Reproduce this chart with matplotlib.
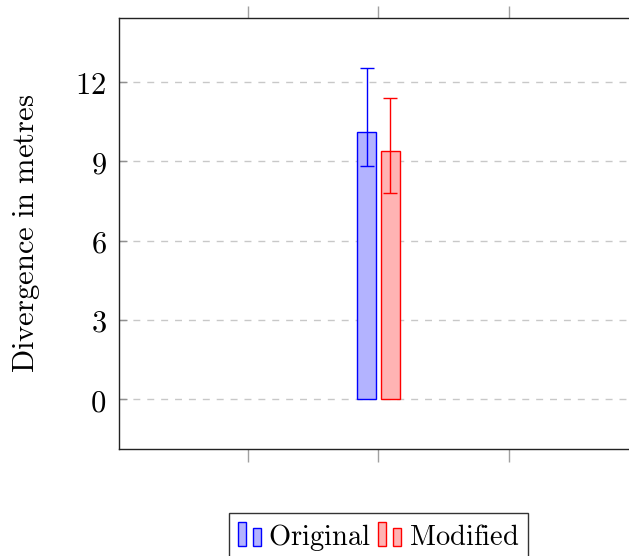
import matplotlib
matplotlib.use("Agg")
import matplotlib.pyplot as plt
from matplotlib.patches import Rectangle
from matplotlib.legend_handler import HandlerBase

plt.rcParams['mathtext.fontset'] = 'cm'
plt.rcParams['font.family'] = 'serif'
plt.rcParams['font.serif'] = ['DejaVu Serif']

series = ["Original", "Modified"]
values = [10.12, 9.39]
err_plus = [2.40, 2.02]
err_minus = [1.31, 1.57]
colors = ["#0000ff", "#ff0000"]
fills = ["#b3b3ff", "#ffb3b3"]
x_center = 1
offsets = [-0.09, 0.092]
bar_width = 0.146
yticks = [0, 3, 6, 9, 12]

fig = plt.figure(figsize=(6.29, 5.56), dpi=100)
ax = fig.add_axes([119/629, 1-449/556, (638-119)/629, (449-18)/556])

for i in range(2):
    x = x_center + offsets[i]
    ax.bar(x, values[i], width=bar_width, color=fills[i], edgecolor=colors[i], linewidth=1, zorder=3)
    ax.errorbar(x, values[i], yerr=[[err_minus[i]], [err_plus[i]]], fmt='none',
                ecolor=colors[i], elinewidth=1, capsize=5, capthick=1, zorder=4)

ax.set_xlim(-0.988, 2.99)
ax.set_ylim(-1.89, 14.43)
ax.set_yticks(yticks)
ax.set_yticklabels([f"${t}$" for t in yticks], fontsize=22)
ax.set_xticks([0, 1, 2])
ax.set_xticklabels([])
ax.tick_params(axis='x', which='both', direction='out', top=True, bottom=True, length=9, color='#a0a0a0', width=1)
ax.tick_params(axis='y', direction='in', left=True, right=False, length=6, color='#909090', width=1, pad=9)
ax.grid(axis='y', linestyle=(0, (5, 5)), color='#c8c8c8', linewidth=1, zorder=0)
for s in ax.spines.values():
    s.set_color('#222222')
    s.set_linewidth(1)
ax.set_ylabel(r"$\mathrm{Divergence\ in\ metres}$", fontsize=22, labelpad=24)


class TwoBarHandler(HandlerBase):
    def __init__(self, fc, ec):
        super().__init__()
        self.fc = fc
        self.ec = ec

    def create_artists(self, legend, orig_handle, xdescent, ydescent, width, height, fontsize, trans):
        w = width * 0.32
        b = -ydescent - height * 0.05
        r1 = Rectangle((-xdescent, b), w, height * 1.2,
                       facecolor=self.fc, edgecolor=self.ec, lw=1, transform=trans)
        r2 = Rectangle((-xdescent + width * 0.64, b), w, height * 0.88,
                       facecolor=self.fc, edgecolor=self.ec, lw=1, transform=trans)
        return [r1, r2]

handles = [Rectangle((0, 0), 1, 1, label=s) for s in series]
hmap = {handles[i]: TwoBarHandler(fills[i], colors[i]) for i in range(2)}
leg = fig.legend(handles, [rf"$\mathrm{{{s}}}$" for s in series], handler_map=hmap,
                 loc='upper center', bbox_to_anchor=(378.5/629, 1-513/556), ncol=2,
                 frameon=True, fancybox=False, edgecolor='black', fontsize=20.5,
                 handlelength=0.83, handletextpad=0.24, columnspacing=0.25, borderpad=0.3,
                 borderaxespad=0)
leg.get_frame().set_linewidth(1)

fig.savefig("out.png", dpi=100)
